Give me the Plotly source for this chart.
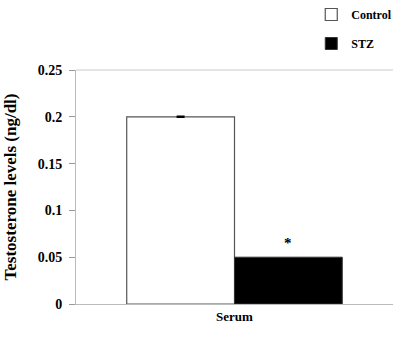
import plotly.graph_objects as go

categories = ["Serum"]
control_values = [0.2]
control_err = [0.0005]
stz_values = [0.05]
y_ticks = [0, 0.05, 0.1, 0.15, 0.2, 0.25]
y_tick_labels = ["0", "0.05", "0.1", "0.15", "0.2", "0.25"]

serif = "Liberation Serif, Times New Roman, serif"

fig = go.Figure()
fig.add_trace(go.Bar(
    x=categories, y=control_values, name="Control",
    marker=dict(color="white", line=dict(color="#555555", width=1.2)),
    error_y=dict(type="data", array=control_err, color="black", thickness=1.5, width=4),
    legendgroup="a",
))
fig.add_trace(go.Bar(
    x=categories, y=stz_values, name="STZ",
    marker=dict(color="black", line=dict(color="#333333", width=1)),
    legendgroup="b",
))

fig.add_annotation(x=0.17, xref="x", y=stz_values[0] + 0.004, yref="y",
                   text="<b>*</b>", showarrow=False, yanchor="bottom",
                   font=dict(family=serif, size=15, color="black"))

fig.update_layout(
    width=394, height=338,
    margin=dict(l=76, r=1, t=70, b=34, autoexpand=False),
    paper_bgcolor="white", plot_bgcolor="white",
    barmode="group", bargap=0.32, bargroupgap=0,
    font=dict(family=serif, size=13, color="black", weight="bold"),
    showlegend=True,
    legend=dict(xref="container", yref="container", x=0.79, xanchor="left",
                y=1.0, yanchor="top",
                traceorder="grouped", tracegroupgap=10,
                font=dict(family=serif, size=12, color="black", weight="bold"),
                bgcolor="rgba(0,0,0,0)", itemwidth=30),
    xaxis=dict(showline=True, linecolor="#bbbbbb", linewidth=1, ticks="",
               tickfont=dict(family=serif, size=13, weight="bold"), mirror=False,
               showgrid=False, automargin=False),
    yaxis=dict(range=[0, 0.25], tickvals=y_ticks, ticktext=y_tick_labels,
               showline=True, linecolor="#bbbbbb", linewidth=1,
               ticks="outside", ticklen=6, tickcolor="#999999",
               ticklabelstandoff=4,
               showgrid=False, zeroline=False, automargin=False,
               tickfont=dict(family=serif, size=14, weight="bold"),
               title=dict(text="Testosterone levels (ng/dl)",
                          font=dict(family=serif, size=17, weight="bold"), standoff=16)),
)
fig.add_shape(type="line", xref="paper", yref="paper", x0=0, x1=1, y0=1, y1=1,
              line=dict(color="#dddddd", width=1.5))

fig.write_html("out.html", config={"displayModeBar": False},
               post_script="document.body.style.margin='0';document.body.style.overflow='hidden';")
